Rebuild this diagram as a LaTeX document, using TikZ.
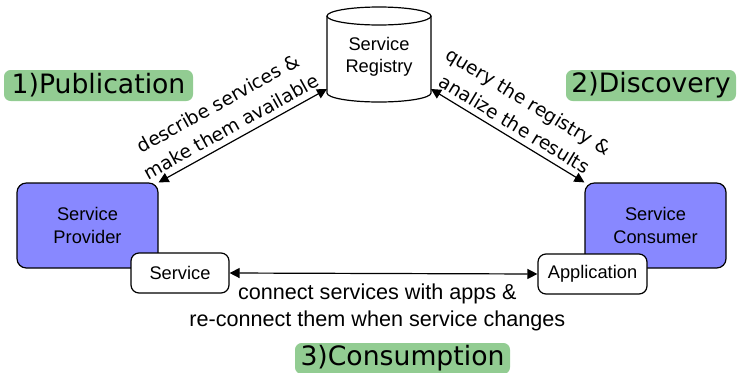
\documentclass[tikz,border=0pt]{standalone}
\usepackage{fontspec}
\setmainfont{Liberation Sans}
\newfontfamily\dvfont{DejaVu Sans}
\usetikzlibrary{arrows.meta}
\definecolor{phasegreen}{RGB}{146,204,146}
\definecolor{actorblue}{RGB}{136,136,255}
\tikzset{
  actor/.style={draw, line width=0.9pt, fill=actorblue, rounded corners=7pt,
    minimum width=105.75pt, minimum height=63.75pt, align=center,
    font=\fontsize{13.7}{17.3}\selectfont},
  part/.style={draw, line width=0.9pt, fill=white, rounded corners=6pt,
    minimum height=30pt, inner xsep=2pt, align=center,
    font=\fontsize{13.7}{17.3}\selectfont},
  phase/.style={fill=phasegreen, rounded corners=5pt, minimum height=23.25pt,
    inner sep=0pt, font=\dvfont\fontsize{20}{24}\selectfont},
  conn/.style={line width=0.9pt, {Triangle[length=7.5pt,width=7.5pt]}-{Triangle[length=7.5pt,width=7.5pt]}},
  elabel/.style={font=\dvfont\fontsize{14}{20}\selectfont, align=center}
}
\begin{document}
\begin{tikzpicture}[x=0.75pt,y=-0.75pt]
\useasboundingbox (0,0) rectangle (738,372);
% phase labels
\node[phase, minimum width=141.75pt] (p1) at (98.5,85.5) {1)Publication};
\node[phase, minimum width=127.5pt] (p2) at (651,85.5) {2)Discovery};
\node[phase, minimum width=161.25pt] (p3) at (402.5,358.5) {3)Consumption};
% registry cylinder
\draw[line width=0.9pt, fill=white] (327,16) -- (327,93) arc[start angle=180, end angle=360, x radius=39pt, y radius=6.75pt] -- (431,16);
\draw[line width=0.9pt] (379,16) ellipse [x radius=39pt, y radius=6.75pt];
\node[align=center, font=\fontsize{13.7}{16.5}\selectfont, minimum width=78pt, minimum height=72pt] (reg) at (379,57) {Service\\Registry};
\coordinate (r1) at (327,89);
\coordinate (r2) at (431,89);
% actors
\node[actor] (prov) at (87.5,225.5) {Service\\Provider};
\node[actor] (cons) at (655.5,225.5) {Service\\Consumer};
\node[part, minimum width=73.5pt] (svc) at (180,273) {Service};
\node[part, minimum width=81.75pt] (app) at (592.5,274) {Application};
% connectors
\draw[conn] (prov.north east) -- (r1)
  node[elabel, pos=0.47, above=1pt, sloped] {describe services \&\\make them available};
\draw[conn] (r2) -- (cons.north west)
  node[elabel, pos=0.5, above=1pt, sloped] {query the registry \&\\analize the results};
\draw[conn] (svc.east) -- (app.west)
  node[pos=0.48, below=4pt, align=center, font=\fontsize{16.2}{20}\selectfont] (ctext) {connect services with apps \&\\re-connect them when service changes};
\end{tikzpicture}
\end{document}
